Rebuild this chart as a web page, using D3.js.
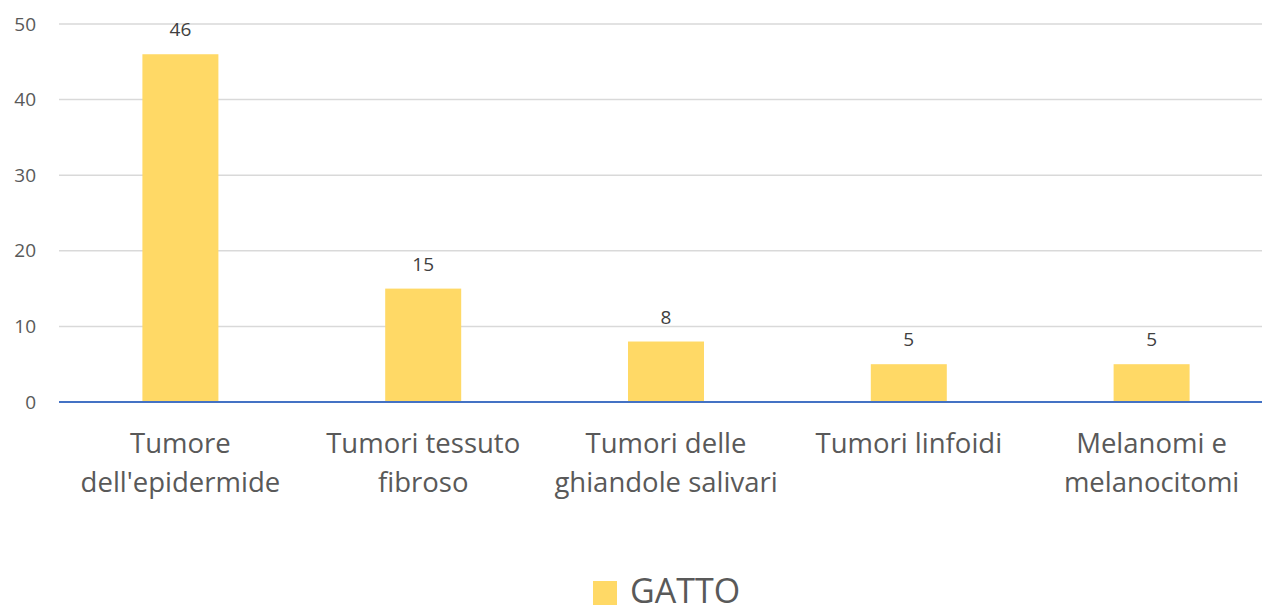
<!DOCTYPE html>
<html>
<head>
<meta charset="utf-8">
<script src="https://cdn.jsdelivr.net/npm/d3@7"></script>
<style>
  body { margin: 0; background: #fff; }
  text { font-family: "Open Sans", sans-serif; }
</style>
</head>
<body>
<div id="chart"></div>
<script>
const categories = [
  ['Tumore', "dell'epidermide"],
  ['Tumori tessuto', 'fibroso'],
  ['Tumori delle', 'ghiandole salivari'],
  ['Tumori linfoidi'],
  ['Melanomi e', 'melanocitomi'],
];
const values = [46, 15, 8, 5, 5];
const yTicks = [0, 10, 20, 30, 40, 50];
const seriesName = 'GATTO';

const width = 1262;
const height = 606;

const svg = d3.select('#chart').append('svg')
  .attr('width', width)
  .attr('height', height);

// scales
const x = d3.scaleBand()
  .domain(d3.range(categories.length))
  .range([59, 1273])
  .paddingInner(0.687)
  .paddingOuter(0.3435);

const y = d3.scaleLinear()
  .domain([0, 50])
  .range([402, 24]);

// gridlines
svg.append('g')
  .selectAll('line')
  .data(yTicks.filter((d) => d > 0))
  .join('line')
  .attr('x1', 59)
  .attr('x2', width)
  .attr('y1', (d) => y(d))
  .attr('y2', (d) => y(d))
  .attr('stroke', '#d9d9d9')
  .attr('stroke-width', 1.5);

// y tick labels
const yAxis = d3.axisLeft(y).tickValues(yTicks).tickSize(0).tickPadding(0);
svg.append('g')
  .attr('transform', 'translate(36,0)')
  .call(yAxis)
  .call((g) => g.select('.domain').remove())
  .selectAll('text')
  .attr('fill', '#595959')
  .style('font-size', '19px');

// bars
svg.append('g')
  .selectAll('rect')
  .data(values)
  .join('rect')
  .attr('x', (d, i) => x(i))
  .attr('y', (d) => y(d))
  .attr('width', x.bandwidth())
  .attr('height', (d) => y(0) - y(d))
  .attr('fill', '#ffd966');

// value labels
svg.append('g')
  .selectAll('text')
  .data(values)
  .join('text')
  .attr('x', (d, i) => x(i) + x.bandwidth() / 2)
  .attr('y', (d) => y(d) - 18)
  .attr('text-anchor', 'middle')
  .attr('fill', '#404040')
  .style('font-size', '19px')
  .text((d) => d);

// baseline
svg.append('line')
  .attr('x1', 59)
  .attr('x2', width)
  .attr('y1', y(0))
  .attr('y2', y(0))
  .attr('stroke', '#4472c4')
  .attr('stroke-width', 2);

// category labels
const catLabels = svg.append('g')
  .selectAll('text')
  .data(categories)
  .join('text')
  .attr('x', (d, i) => x(i) + x.bandwidth() / 2)
  .attr('y', 453)
  .attr('text-anchor', 'middle')
  .attr('fill', '#595959')
  .style('font-size', '27.5px');

catLabels.selectAll('tspan')
  .data((d) => d)
  .join('tspan')
  .attr('x', function () { return d3.select(this.parentNode).attr('x'); })
  .attr('dy', (d, i) => (i === 0 ? 0 : 39))
  .text((d) => d);

// legend
const legend = svg.append('g');
legend.append('rect')
  .attr('x', 593)
  .attr('y', 581)
  .attr('width', 24)
  .attr('height', 24)
  .attr('fill', '#ffd966');
legend.append('text')
  .attr('x', 630)
  .attr('y', 603)
  .attr('fill', '#595959')
  .style('font-size', '34px')
  .text(seriesName);
</script>
</body>
</html>
